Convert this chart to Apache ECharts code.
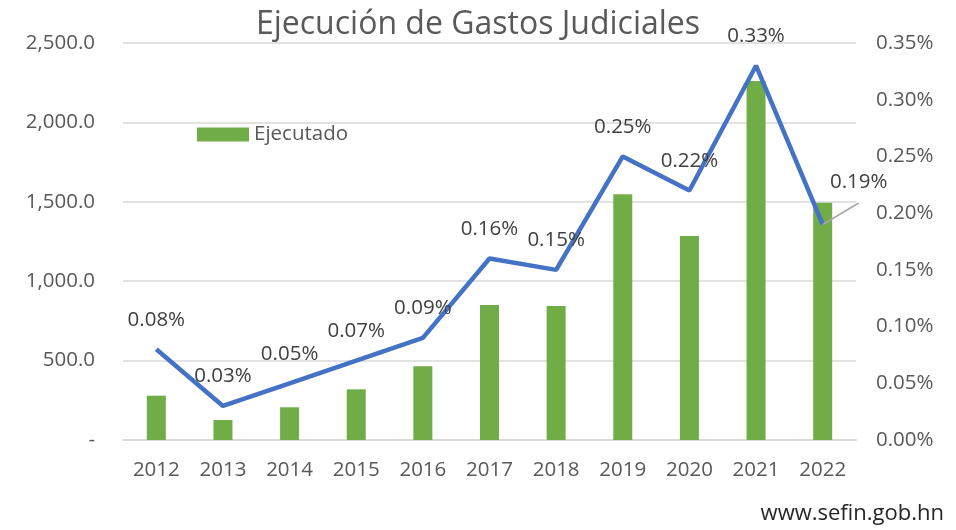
<!DOCTYPE html>
<html>
<head>
<meta charset="utf-8">
<script src="https://cdn.jsdelivr.net/npm/echarts@6/dist/echarts.min.js"></script>
<style>
  html, body { margin: 0; padding: 0; background: #fff; }
  #chart { width: 956px; height: 530px; }
</style>
</head>
<body>
<div id="chart"></div>
<script>
const years = ['2012', '2013', '2014', '2015', '2016', '2017', '2018', '2019', '2020', '2021', '2022'];
const ejecutado = [279, 126, 206, 319, 464, 850, 844, 1547, 1285, 2261, 1494];
const porcentaje = [0.08, 0.03, 0.05, 0.07, 0.09, 0.16, 0.15, 0.25, 0.22, 0.33, 0.19];

const font = 'Open Sans';
const chart = echarts.init(document.getElementById('chart'));

const lineData = porcentaje.map((v, i) => {
    if (i === porcentaje.length - 1) {
        return {
            value: v,
            label: { offset: [36, -13] },
            labelLine: { show: true, lineStyle: { color: '#a6a6a6', width: 1.5 } }
        };
    }
    return v;
});

const option = {
    animation: false,
    title: {
        text: 'Ejecución de Gastos Judiciales',
        left: 'center',
        top: 4,
        textStyle: { fontFamily: font, fontSize: 32, fontWeight: 'normal', color: '#595959' }
    },
    legend: {
        data: [{ name: 'Ejecutado', icon: 'rect' }],
        left: 192,
        top: 119,
        itemWidth: 52,
        itemHeight: 14,
        itemGap: 6,
        textStyle: { fontFamily: font, fontSize: 20.5, color: '#595959' }
    },
    grid: { left: 123, right: 100, top: 43, bottom: 90 },
    xAxis: {
        type: 'category',
        data: years,
        axisLine: { lineStyle: { color: '#d9d9d9', width: 2 } },
        axisTick: { show: false },
        axisLabel: { fontFamily: font, fontSize: 20.5, color: '#595959', margin: 20 }
    },
    yAxis: [
        {
            type: 'value',
            min: 0,
            max: 2500,
            interval: 500,
            axisLine: { show: false },
            axisTick: { show: false },
            splitLine: { lineStyle: { color: '#d9d9d9', width: 1.5 } },
            axisLabel: {
                fontFamily: font, fontSize: 20.5, color: '#595959', margin: 28,
                formatter: v => v === 0 ? '-' : v.toLocaleString('en-US', { minimumFractionDigits: 1, maximumFractionDigits: 1 })
            }
        },
        {
            type: 'value',
            min: 0,
            max: 0.35,
            interval: 0.05,
            axisLine: { show: false },
            axisTick: { show: false },
            splitLine: { show: false },
            axisLabel: {
                fontFamily: font, fontSize: 20.5, color: '#595959', margin: 20,
                formatter: v => v.toFixed(2) + '%'
            }
        }
    ],
    series: [
        {
            name: 'Ejecutado',
            type: 'bar',
            data: ejecutado,
            barWidth: 19,
            itemStyle: { color: '#70ad47' }
        },
        {
            name: 'Porcentaje',
            type: 'line',
            yAxisIndex: 1,
            data: lineData,
            symbol: 'circle',
            symbolSize: 0,
            showSymbol: true,
            itemStyle: { color: '#4472c4' },
            lineStyle: { color: '#4472c4', width: 4.5 },
            label: {
                show: true,
                position: 'top',
                distance: 19,
                fontFamily: font,
                fontSize: 20.5,
                color: '#404040',
                formatter: p => p.value.toFixed(2) + '%'
            }
        }
    ],
    graphic: [
        {
            type: 'text',
            right: 12,
            top: 503,
            style: { text: 'www.sefin.gob.hn', fontFamily: font, fontSize: 22, fill: '#262626' }
        }
    ]
};

chart.setOption(option);
</script>
</body>
</html>
